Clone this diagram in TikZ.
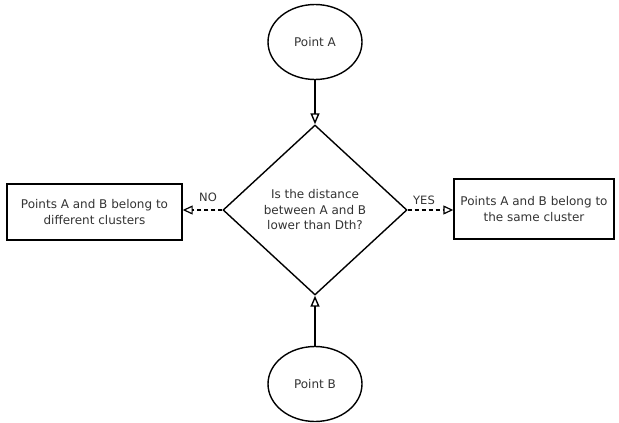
\documentclass[tikz,border=0pt]{standalone}
\usepackage{fontspec}
\setmainfont{DejaVu Sans}
\usetikzlibrary{shapes.geometric,arrows.meta}
\begin{document}
\begin{tikzpicture}[x=1pt,y=-1pt,
  every node/.style={font=\fontsize{12}{15.5}\selectfont, text=black!80},
  oval/.style={draw, ellipse, line width=1.4pt, minimum width=94pt, minimum height=75pt, inner sep=0pt},
  decision/.style={draw, diamond, line width=1.4pt, minimum width=184pt, minimum height=170pt, inner sep=0pt, align=center},
  result/.style={draw, rectangle, line width=1.4pt, align=center, inner sep=0pt},
  solidarrow/.style={line width=1.4pt, -{Triangle[open, length=11pt, width=9pt]}},
  dasharrow/.style={line width=1.2pt, dashed, dash pattern=on 4pt off 3pt, -{Triangle[open, length=10pt, width=9pt]}},
  lbl/.style={font=\fontsize{11.5}{14}\selectfont}
]
\useasboundingbox (0,0) rectangle (619,423);
\node[oval] (pa) at (315,42) {Point A};
\node[oval] (pb) at (315,384) {Point B};
\node[decision] (q) at (315,210) {Is the distance\\between A and B\\lower than Dth?};
\node[result, minimum width=175pt, minimum height=56pt] (left) at (94.5,212) {Points A and B belong to\\different clusters};
\node[result, minimum width=160pt, minimum height=60pt] (right) at (534,209) {Points A and B belong to\\the same cluster};
\draw[solidarrow] (pa) -- (q.north);
\draw[solidarrow] (pb) -- (q.south);
\draw[dasharrow] (q.west) -- (q.west -| left.east) coordinate (le);
\draw[dasharrow] (q.east) -- (q.east -| right.west) coordinate (re);
\node[lbl] (no) at (208,197) {NO};
\node[lbl] (yes) at (424,200) {YES};
\end{tikzpicture}
\end{document}
